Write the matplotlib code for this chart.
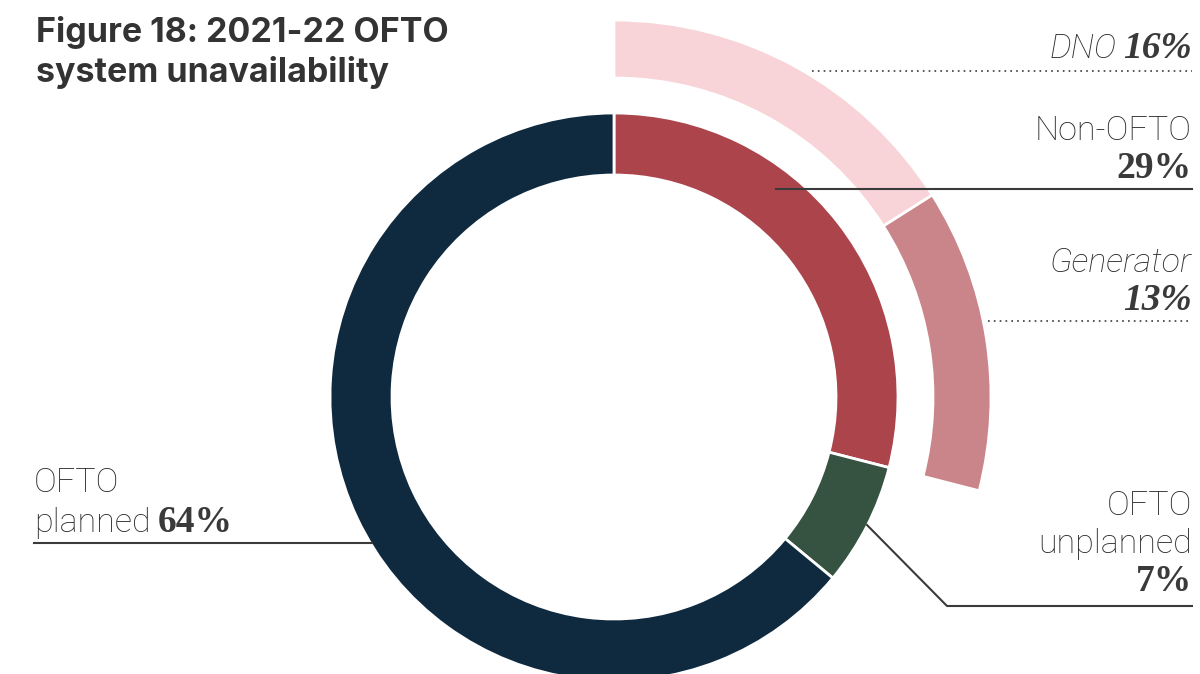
import matplotlib
matplotlib.use("Agg")
import matplotlib.pyplot as plt

# ── Data ──────────────────────────────────────────────────────────────────────
inner_labels = ["Non-OFTO", "OFTO unplanned", "OFTO planned"]
inner_values = [29, 7, 64]
outer_labels = ["DNO", "Generator"]      # split of Non-OFTO
outer_values = [16, 13]

# ── Style ─────────────────────────────────────────────────────────────────────
W, H = 1200, 674
inner_colors = ["#AC444C", "#355340", "#0F293E"]
outer_colors = ["#F8D3D7", "#CA858A"]
TEXT = "#3a3a3a"
TITLE_FONT = "Inter"
SANS = "Roboto"
SERIF = "Liberation Serif"
LBL = 24.5
NUM = 27

fig = plt.figure(figsize=(W / 100, H / 100), dpi=100)
ax = fig.add_axes([0, 0, 1, 1])
cx, cy = 614, H - 397

ax.pie(inner_values, colors=inner_colors, startangle=90, counterclock=False,
       radius=284, center=(cx, cy),
       wedgeprops=dict(width=62, edgecolor="white", linewidth=2))
ax.pie([v / 100 for v in outer_values], normalize=False, colors=outer_colors,
       startangle=90, counterclock=False, radius=377, center=(cx, cy),
       wedgeprops=dict(width=58, edgecolor="white", linewidth=2))
ax.set_xlim(0, W)
ax.set_ylim(0, H)
ax.set_aspect("equal")
ax.axis("off")

renderer = fig.canvas.get_renderer()


def Y(y):
    return H - y


def sans(italic=False):
    return dict(family=SANS, fontsize=LBL, fontweight="light",
                style="italic" if italic else "normal", color="#2b2b2b")


def serif(italic=False):
    return dict(family=SERIF, fontsize=NUM, fontweight="bold",
                style="italic" if italic else "normal", color=TEXT)


def run(parts, x, y, ha="left", gap=7):
    """Place text pieces with different fonts on one baseline."""
    seq = parts if ha == "left" else parts[::-1]
    for s, props in seq:
        t = ax.text(x, Y(y), s, ha=ha, va="baseline", **props)
        w = t.get_window_extent(renderer).width
        x = x + w + gap if ha == "left" else x - w - gap


# ── Title ─────────────────────────────────────────────────────────────────────
ax.text(36, Y(42), "Figure 18: 2021-22 OFTO", family=TITLE_FONT, fontsize=24.5,
        fontweight="bold", color="#333333", va="baseline")
ax.text(36, Y(82), "system unavailability", family=TITLE_FONT, fontsize=24.5,
        fontweight="bold", color="#333333", va="baseline")

RX = 1192
pct = [f"{v}%" for v in outer_values]
ipct = [f"{v}%" for v in inner_values]

# DNO
run([("DNO", sans(True)), (pct[0], serif(True))], RX, 58, ha="right")
ax.plot([812, RX], [Y(71), Y(71)], ls=(0, (1, 2.5)), lw=1.2, color=TEXT, zorder=3)

# Non-OFTO
run([("Non-OFTO", sans())], RX, 140, ha="right")
run([(ipct[0], serif())], RX, 178, ha="right")
ax.plot([776, RX], [Y(189), Y(189)], lw=1.5, color=TEXT, zorder=3)

# Generator
run([("Generator", sans(True))], RX, 272, ha="right")
run([(pct[1], serif(True))], RX, 310, ha="right")
ax.plot([988, RX], [Y(321), Y(321)], ls=(0, (1, 2.5)), lw=1.2, color=TEXT, zorder=3)

# OFTO unplanned
run([("OFTO", sans())], RX, 515, ha="right")
run([("unplanned", sans())], RX, 553, ha="right")
run([(ipct[1], serif())], RX, 591, ha="right")
ax.plot([867, 947, RX], [Y(525), Y(606), Y(606)], lw=1.5, color=TEXT, zorder=3)

# OFTO planned
run([("OFTO", sans())], 34, 492)
run([("planned", sans()), (ipct[2], serif())], 34, 532)
ax.plot([34, 372], [Y(543), Y(543)], lw=1.5, color=TEXT, zorder=3)

fig.savefig("out.png", dpi=100)
